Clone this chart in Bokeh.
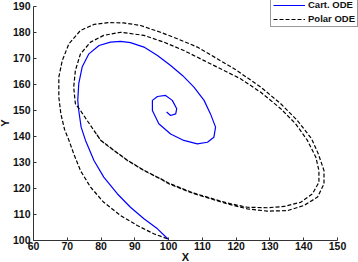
import math
from bokeh.plotting import figure
from bokeh.models import Range1d, FixedTicker, Legend, LegendItem, Label, LinearAxis
from bokeh.embed import file_html
from bokeh.resources import INLINE

x_ticks = [60, 70, 80, 90, 100, 110, 120, 130, 140, 150]
y_ticks = [100, 110, 120, 130, 140, 150, 160, 170, 180, 190]

cart_x = [99.9, 96.7, 92.7, 88.7, 84.8, 80.8, 77.9, 75.4, 74.1, 73.4, 73.1, 73.4,
          74.4, 76.4, 79.4, 82.8, 85.8, 88.7, 92.7, 96.7, 100.6, 104.1, 107.5,
          110.5, 112.4, 113.9, 113.4, 111.5, 108.5, 104.5, 100.6, 97.1, 95.2,
          95.2, 96.7, 99.1, 101.1, 102.4, 102.1, 100.6, 99.4]
cart_y = [100.3, 104.3, 108.2, 112.6, 117.8, 124.2, 130.6, 138.3, 143.4, 149.8,
          153.7, 160.1, 166.5, 171.6, 174.8, 176.1, 176.4, 175.9, 174.2, 171.0,
          167.1, 163.3, 158.8, 153.7, 148.5, 143.4, 139.5, 137.6, 137.0, 138.3,
          140.8, 144.7, 149.8, 153.7, 155.2, 155.6, 153.7, 150.5, 148.5, 147.9,
          149.2]

polar_x = [99.6, 95.6, 90.7, 85.8, 80.8, 76.9, 73.9, 71.9, 70.5, 69.2, 68.1, 67.5,
           67.5, 68.5, 70.5, 73.9, 77.9, 82.3, 86.7, 91.7, 97.6, 102.6, 108.5,
           114.4, 119.4, 127.3, 133.2, 138.1, 142.3, 144.3, 146.0, 146.0, 144.1,
           140.1, 135.2, 129.2, 123.3, 117.4, 107.5, 100.1, 97.6, 92.7, 87.8,
           83.8, 79.9, 77.9, 73.9,
           72.4, 71.9, 72.4, 73.9, 76.9, 80.8, 85.8, 92.7, 98.6, 104.5, 110.5,
           116.4, 121.3, 127.3, 133.2, 137.6, 141.1, 143.6, 144.5, 144.5, 142.6,
           139.1, 134.2, 129.2, 123.3, 117.4, 107.5, 100.1, 97.6, 92.7, 87.8,
           83.8, 79.9, 77.9]
polar_y = [100.5, 102.4, 105.6, 109.4, 114.5, 120.3, 126.7, 133.2, 138.3, 142.5,
           148.5, 154.9, 162.6, 169.0, 175.5, 180.6, 182.9, 183.6, 183.5, 182.5,
           179.9, 177.4, 174.2, 169.7, 165.9, 158.8, 152.4, 146.0, 139.0, 133.2,
           126.7, 121.6, 116.5, 113.3, 111.3, 111.1, 112.0, 113.9, 117.8, 121.6,
           123.5, 126.7, 130.6, 134.4, 138.3, 142.1, 149.8,
           152.4, 158.8, 165.2, 171.6, 176.1, 178.7, 179.9, 178.7, 176.1, 172.9,
           169.0, 165.2, 162.0, 156.8, 150.5, 144.7, 138.3, 131.8, 126.7, 122.2,
           117.8, 114.5, 112.9, 112.4, 112.6, 114.2, 118.0, 121.8, 123.6, 126.8,
           130.7, 134.5, 138.4, 142.1]

# frame covers whole canvas; axes drawn at fixed locations
W, H = 358, 262
LEFT, RIGHT, TOP, BOTTOM = 33.0, 337.0, 5.5, 239.5
xs = (RIGHT - LEFT) / (x_ticks[-1] - x_ticks[0])
ys = (BOTTOM - TOP) / (y_ticks[-1] - y_ticks[0])
x_rng = Range1d(x_ticks[0] - LEFT / xs, x_ticks[0] + (W - LEFT) / xs)
y_rng = Range1d(y_ticks[0] - (H - BOTTOM) / ys, y_ticks[-1] + TOP / ys)

p = figure(width=W, height=H, output_backend="svg", toolbar_location=None,
           x_range=x_rng, y_range=y_rng, x_axis_location=None, y_axis_location=None,
           min_border=0, min_border_left=0, min_border_right=0, min_border_top=0,
           min_border_bottom=0)
p.outline_line_color = None
p.grid.visible = False
p.background_fill_color = "white"
p.border_fill_color = "white"

xaxis = LinearAxis(fixed_location=y_ticks[0], bounds=(x_ticks[0], x_ticks[-1]),
                   ticker=FixedTicker(ticks=x_ticks), major_label_standoff=2)
yaxis = LinearAxis(fixed_location=x_ticks[0], bounds=(y_ticks[0], y_ticks[-1]),
                   ticker=FixedTicker(ticks=y_ticks), major_label_standoff=3)
for ax in (xaxis, yaxis):
    ax.major_tick_in = 3
    ax.major_tick_out = 0
    ax.minor_tick_line_color = None
    ax.axis_line_color = "#333333"
    ax.major_tick_line_color = "#333333"
    ax.major_label_text_font = "Liberation Sans"
    ax.major_label_text_font_size = "10.5px"
    ax.major_label_text_font_style = "bold"
    ax.major_label_text_color = "#111111"
p.add_layout(xaxis, "below")
p.add_layout(yaxis, "left")

r1 = p.line(cart_x, cart_y, line_color="#0000ff", line_width=1.2)
r2 = p.line(polar_x, polar_y, line_color="black", line_width=1.2, line_dash="4 2")

legend = Legend(items=[LegendItem(label="Cart. ODE", renderers=[r1]),
                       LegendItem(label="Polar ODE", renderers=[r2])],
                location=(270, 235), margin=0, padding=2, spacing=3,
                label_height=10, glyph_height=10, glyph_width=32,
                label_standoff=3, label_text_font="Liberation Sans",
                label_text_font_size="9.5px", label_text_font_style="bold",
                label_text_color="#111111", border_line_color="#333333",
                border_line_width=1, background_fill_alpha=1.0)
p.add_layout(legend)

p.add_layout(Label(x=185, y=5.5, x_units="screen", y_units="screen", text="X",
                   text_align="center", text_baseline="middle",
                   text_font="Liberation Sans", text_font_size="11px",
                   text_font_style="bold", text_color="#111111"))
p.add_layout(Label(x=4, y=139.5, x_units="screen", y_units="screen", text="Y",
                   angle=math.pi / 2, text_align="center", text_baseline="middle",
                   text_font="Liberation Sans", text_font_size="11px",
                   text_font_style="bold", text_color="#111111"))

open("out.html", "w").write(file_html(p, INLINE))
